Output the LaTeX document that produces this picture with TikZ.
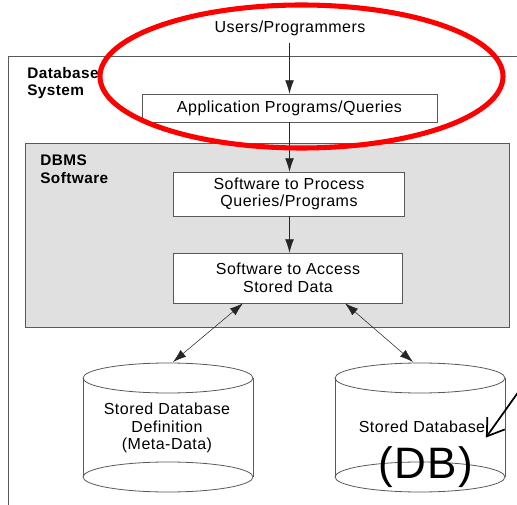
\documentclass[tikz,border=0pt]{standalone}
\usepackage{fontspec}
\setmainfont{Liberation Sans}[LetterSpace=3]
\usetikzlibrary{arrows.meta,positioning,calc}

\begin{document}
\begin{tikzpicture}[x=0.75pt, y=-0.75pt,
    txt/.style={font=\fontsize{12}{13.2}\selectfont, align=center},
    hdr/.style={font=\bfseries\fontsize{11.5}{12.8}\selectfont, align=left,
        anchor=north west, inner sep=0pt},
    box/.style={txt, draw=black!65, fill=white, inner sep=0pt},
    flow/.style={-{Latex[length=10pt,width=6.5pt]}, black!85},
    cyl/.style={draw=black!65, line width=0.6pt}]
    \useasboundingbox (0,0) rectangle (517,505);
    \clip (0,0) rectangle (517,505);

    % Database System frame
    \draw[black!65] (8,530) -- (8,56) -- (530,56);
    \node[hdr] (syslabel) at (27,67) {Database\\System};

    % DBMS software
    \draw[black!65, fill=black!12] (25,143) rectangle (509,327);
    \node[hdr] (dbmslabel) at (40,155) {DBMS\\Software};

    \node[txt, inner sep=0pt] (users) at (290,28) {Users/Programmers};
    \node[box,
    minimum width=221pt,
    minimum height=21pt] (app) at (289.5,108) {Application Programs/Queries};
    \node[box,
    minimum width=173pt,
    minimum height=33pt] (proc) at (289,194) {Software to Process\\Queries/Programs};
    \node[box,
    minimum width=172pt,
    minimum height=37.5pt] (acc) at (288,278) {Software to Access\\Stored Data};

    \draw[flow] (users.south -| app.north) ++(0,7) -- (app.north);
    \draw[flow] (app.south) -- (app.south |- proc.north);
    \draw[flow] (proc.south -| app.south) -- (app.south |- acc.north);

    % disks
    \foreach \cx in {168, 420} {
        \draw[cyl] (\cx-85,378) -- (\cx-85,477) (\cx+85,378) -- (\cx+85,477);
        \draw[cyl] (\cx,378) ellipse [x radius=85, y radius=15];
        \draw[cyl] (\cx,477) ellipse [x radius=85, y radius=15];
    }
    \coordinate (metatop) at (173,362);
    \coordinate (datatop) at (413,362);
    \node[txt] (meta) at (167,428) {Stored Database\\Definition\\(Meta-Data)};
    \node[txt] (data) at (422,427) {Stored Database};
    \node[inner sep=0pt, font=\fontsize{33}{33}\selectfont] (dbtag) at (426,467) {(DB)};

    \draw[flow, {Latex[length=10pt,width=6.5pt]}-{Latex[length=10pt,width=6.5pt]}]
        ($(acc.south)+(-45,0)$) -- (metatop);
    \draw[flow, {Latex[length=10pt,width=6.5pt]}-{Latex[length=10pt,width=6.5pt]}]
        ($(acc.south)+(57,0)$) -- (datatop);

    \coordinate (note) at (524,384);
    \draw[line width=1.3pt, -{Straight Barb[length=12pt,width=16pt]}]
        (note) -- ($(data.south east)+(-4,0)$);

    % highlight
    \draw[red, line width=3.8pt] (301.5,76.5) ellipse [x radius=201.5, y radius=71.5];
\end{tikzpicture}
\end{document}
